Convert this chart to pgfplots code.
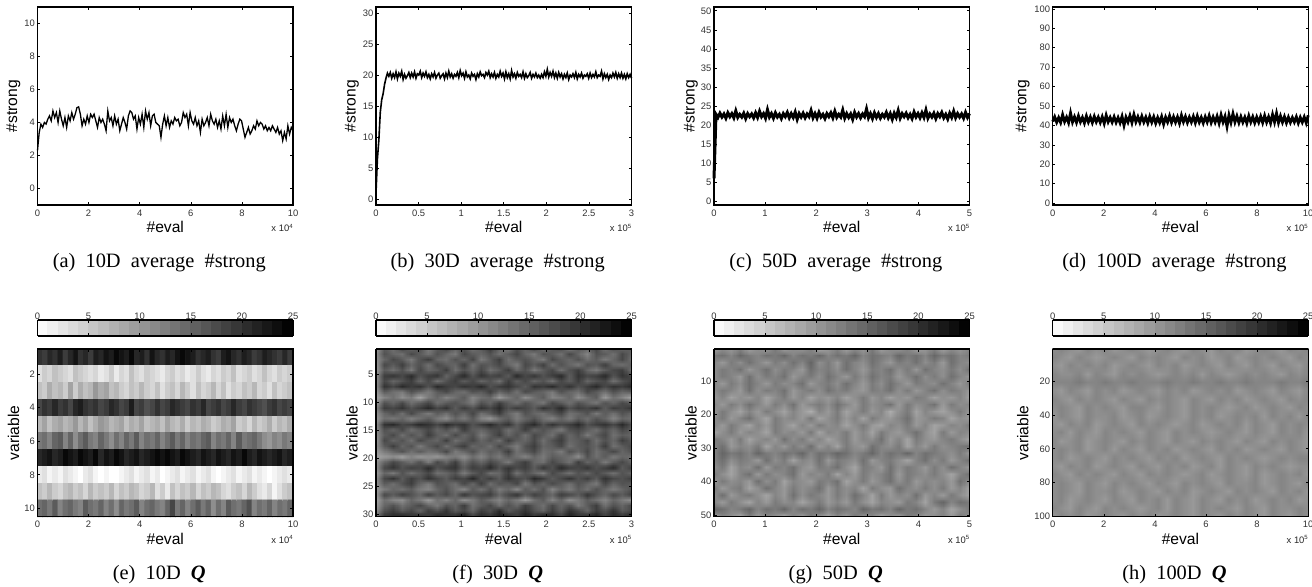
\documentclass[border=0pt]{standalone}
\usepackage{fontspec}
\setmainfont{Liberation Sans}
\newfontfamily\capfont{Liberation Serif}
\usepackage{pgfplots}
\usepgfplotslibrary{patchplots}
\pgfplotsset{compat=1.18}
\newcommand\tickfont{\fontsize{4.7}{5}\selectfont}
\newcommand\labfont{\fontsize{7.8}{9}\selectfont}
\pgfplotsset{
 base/.style={scale only axis,width=127.75pt,anchor=south west,clip=false,
  axis line style={line width=0.55pt,black},
  tick align=inside,major tick length=1.3pt,tick style={line width=0.3pt,black},
  /pgf/number format/assume math mode=true,scaled ticks=false,
  ticklabel style={font=\tickfont,text=black!80,inner sep=0.5pt},
  xticklabel style={yshift=-1.6pt},yticklabel style={xshift=-0.6pt},
  xlabel={\#eval},label style={font=\labfont},
  xlabel style={at={(0.5,0)},anchor=center,yshift=-11pt},
  /pgf/number format/fixed},
 top/.style={base,height=99pt,ylabel={\#strong}},
 heat/.style={base,height=83.85pt,ylabel={variable},y dir=reverse,
  axis on top,view={0}{90},
  colormap={rev}{gray(0cm)=(1);gray(1cm)=(0)},point meta min=0,point meta max=25,
  colorbar horizontal,colorbar sampled,
  colorbar style={samples=26,at={(0,1.0775)},anchor=south west,
    height=8pt,width=127.75pt,xtick={0,5,...,25},xticklabel pos=upper,
    xlabel={},ytick=\empty,tick align=inside,major tick length=1.3pt,
    tick style={line width=0.3pt,black},
    /pgf/number format/assume math mode=true,
    axis line style={line width=0.55pt,black},
    ticklabel style={font=\tickfont,text=black!80,inner sep=0.5pt},
    xticklabel style={yshift=-0.4pt}}},
 yl/.style={ylabel style={at={(0,0.5)},anchor=center,yshift=#1}},
}
\newcommand\expo[1]{\node[anchor=east,font=\tickfont,text=black!85,inner sep=0pt] at (rel axis cs:1,0) [yshift=-11.4pt] {x 10\raisebox{1.6pt}{\fontsize{3}{3}\selectfont #1}};}
\newcommand\capt[1]{\node[anchor=center,font=\capfont\fontsize{10.2}{12}\selectfont] at (rel axis cs:0.5,0) [xshift=-3pt,yshift=-29pt] {#1};}
\begin{document}
\begin{tikzpicture}[x=1pt,y=1pt]
\path[use as bounding box] (0,0) rectangle (656,293.5);
\begin{axis}[top,yl=12pt,at={(18.75pt,191pt)},xmin=0,xmax=10,ymin=-1,ymax=11,xtick={0,2,...,10},ytick={0,2,...,10}]
\addplot[black,line width=0.65pt] table[x expr=\coordindex*10/149,y index=0,header=false]{
2.3
3.4
3.9
3.7
4.0
3.9
4.2
4.4
4.1
4.7
4.3
4.6
4.0
4.7
4.2
3.8
4.3
3.7
4.4
4.1
4.6
4.2
4.5
4.9
4.95
4.5
3.8
4.2
3.9
4.4
4.0
4.5
4.3
4.5
4.1
3.7
4.3
4.0
4.2
3.9
3.5
4.7
4.1
4.3
3.8
4.4
3.9
4.2
3.5
3.9
4.3
4.0
3.6
4.4
4.7
4.6
4.2
4.4
3.6
4.3
3.9
4.5
3.7
4.7
4.2
4.6
3.8
4.4
4.5
4.0
3.9
3.8
3.1
3.9
4.4
3.8
4.3
3.7
4.1
3.9
4.3
4.1
4.2
3.8
4.0
4.6
4.3
4.5
3.8
4.6
4.1
3.9
4.3
3.8
4.1
3.4
4.2
3.8
4.0
4.3
3.8
4.5
4.1
3.9
4.2
3.7
4.1
3.6
4.4
3.8
4.5
3.7
4.3
4.0
4.2
3.8
3.5
3.9
4.2
4.1
3.6
3.1
3.4
3.7
3.3
3.5
3.8
3.6
4.1
3.8
4.0
3.9
3.6
3.8
3.5
3.7
3.5
3.8
3.6
3.4
3.7
3.3
3.5
2.9
3.4
3.0
3.8
3.3
3.7
3.5
};
\expo{4}\capt{(a)\ \ 10D\ \ average\ \ \#strong}
\end{axis}
\begin{axis}[top,yl=12pt,at={(188pt,191pt)},xmin=0,xmax=3,ymin=-1,ymax=31,xtick={0,0.5,...,3},ytick={0,5,...,30}]
\addplot[black,line width=0.8pt] table[x expr=\coordindex*3/179,y index=0,header=false]{
1
6.5
9.5
14
16
17
18.5
19.5
20.3
19.8
20.4
19.5
20.2
19.6
20.5
19.4
20.3
19.8
20.6
19.3
20.1
19.5
19.9
20.4
19.6
20.3
19.7
20.5
19.5
20.2
20.0
20.6
19.6
20.3
19.8
20.5
19.6
20.1
19.4
20.2
19.7
20.4
19.5
20.0
20.3
19.5
19.9
20.2
19.4
20.3
19.6
20.6
19.7
20.2
19.5
20.1
19.8
20.4
19.6
20.7
19.9
20.3
19.5
20.5
19.7
20.0
19.4
20.3
19.8
20.1
19.3
20.2
19.7
20.5
19.9
20.1
19.6
20.4
20.0
20.6
19.6
20.2
19.7
20.4
19.5
20.1
19.7
20.6
19.8
20.3
19.4
20.5
19.6
20.2
19.4
20.7
19.7
20.2
19.5
20.4
19.8
20.1
19.6
20.5
19.5
20.2
19.6
19.9
20.4
19.5
20.1
19.7
20.3
19.6
20.0
19.5
20.1
19.6
20.5
19.8
20.9
19.7
20.4
19.8
20.6
19.6
20.3
19.5
20.4
19.7
20.2
19.4
20.1
19.6
20.3
19.3
20.0
19.7
20.2
19.6
20.4
19.4
20.1
19.7
20.3
19.5
20.0
19.8
20.2
19.5
20.3
19.6
20.1
19.7
20.5
19.6
20.0
19.8
20.6
19.4
20.2
19.6
20.1
19.3
20.0
19.6
20.3
19.7
20.4
19.5
20.2
19.6
20.3
19.5
20.1
19.4
20.2
19.6
20.1
19.5
};
\expo{5}\capt{(b)\ \ 30D\ \ average\ \ \#strong}
\end{axis}
\begin{axis}[top,yl=11.5pt,at={(357pt,191pt)},xmin=0,xmax=5,ymin=-1,ymax=51,xtick={0,1,...,5},ytick={0,5,...,50}]
\addplot[black,line width=1.5pt] table[x expr=\coordindex*5/129,y index=0,header=false]{
6
22.8
22.0
23.1
22.1
22.9
21.8
23.2
22.2
23.0
21.9
23.7
22.0
22.8
22.1
23.1
21.7
23.0
22.2
22.9
21.9
23.2
22.0
23.6
22.2
23.0
21.8
24.0
22.1
23.0
21.8
23.2
22.1
22.8
21.7
23.0
22.2
23.3
21.9
23.0
22.0
23.4
21.5
23.0
22.1
23.1
21.9
22.9
22.2
23.8
21.9
23.0
21.8
23.3
22.1
22.8
21.7
23.0
22.2
23.2
21.9
23.6
22.0
22.8
22.1
23.9
21.8
23.0
22.0
22.9
21.5
23.3
22.1
23.0
21.9
22.9
22.2
24.2
21.9
23.0
21.7
23.2
22.0
23.0
21.8
22.8
22.1
23.3
21.9
23.0
21.5
23.1
22.0
23.8
21.8
23.0
22.2
23.1
21.9
22.8
21.7
23.4
22.1
23.0
21.9
23.2
22.0
23.9
21.8
22.9
22.1
23.1
21.7
23.0
22.2
23.3
21.9
22.8
21.6
23.1
22.0
23.6
21.9
23.0
22.1
22.9
21.8
23.3
22.0
23.0
};
\expo{5}\capt{(c)\ \ 50D\ \ average\ \ \#strong}
\end{axis}
\begin{axis}[top,yl=15pt,at={(526.35pt,191pt)},xmin=0,xmax=10,ymin=-1,ymax=101,xtick={0,2,...,10},ytick={0,10,...,100}]
\addplot[black,line width=1.4pt] table[x expr=\coordindex*10/129,y index=0,header=false]{
42
44.4
41.6
44
41.5
45.5
41.9
44.2
41.4
46.4
41.7
44.4
41.5
44.9
41.8
44.1
41.2
44.8
41.7
44.3
41.4
44.6
41.8
44.2
41.5
44.4
41.0
45.2
41.8
44.1
41.6
44.4
41.5
44.0
41.3
44.6
40.0
44.2
41.7
45.0
41.4
45.6
41.8
44.4
41.5
44.7
41.7
44.2
41.2
44.6
41.6
44.4
41.1
44.0
41.4
44.5
40.6
44.2
41.7
44.9
41.5
44.4
41.6
44.3
41.1
45.2
41.8
44.5
41.4
44.2
41.7
44.6
41.3
44.8
41.6
44.1
41.2
44.4
41.7
45.0
41.4
44.3
41.6
44.7
41.1
45.4
41.7
44.6
39.4
45.3
41.5
46.0
41.7
44.8
41.4
44.5
41.6
44.2
41.1
44.9
41.7
44.4
41.3
44.3
41.6
44.6
41.4
45.0
41.6
44.4
41.2
45.6
41.7
46.2
41.4
44.8
41.6
44.5
41.3
44.2
41.5
44.0
41.7
44.4
41.2
44.1
41.6
44.3
41.3
45.2
};
\expo{5}\capt{(d)\ \ 100D\ \ average\ \ \#strong}
\end{axis}
\begin{axis}[heat,yl=12pt,at={(18.75pt,35.15pt)},xmin=0,xmax=10,ymin=0.5,ymax=10.5,xtick={0,2,...,10},ytick={2,4,...,10}]
\addplot[matrix plot*,mesh/cols=50,point meta=\thisrowno{0}] table[x expr={mod(\coordindex+0.5,50)*0.2},y expr={floor((\coordindex+0.5)/50)+1},header=false]{
20
19
21
20
22
19
21
23
20
21
19
22
21
23
22
24
23
22
24
21
22
20
23
21
20
22
21
23
24
23
22
20
21
22
20
19
22
23
21
20
22
21
19
20
22
21
20
19
21
19
3
5
4
6
5
4
3
6
5
4
3
4
2
3
5
2
4
3
6
4
3
5
4
3
2
4
5
3
4
2
3
5
3
2
4
3
5
4
6
3
4
5
3
4
6
4
3
5
4
5
6
5
8
6
7
5
9
5
8
6
7
10
8
9
6
7
5
4
6
5
7
5
4
6
3
5
6
4
7
5
3
6
4
5
7
4
6
3
5
4
6
5
7
4
5
3
6
4
5
6
18
20
19
21
19
20
18
21
22
20
19
20
18
19
21
20
18
19
22
18
19
17
18
20
18
19
21
20
19
18
20
19
21
18
19
20
18
19
21
19
18
20
19
18
17
19
20
18
19
18
7
9
6
8
9
7
8
10
7
9
6
8
10
9
7
8
9
6
8
7
9
6
7
8
6
9
7
6
8
5
7
6
8
7
5
6
8
7
9
5
6
4
7
5
6
8
5
7
6
8
13
14
12
15
16
12
15
11
14
16
13
12
15
13
11
14
12
15
13
16
12
14
13
15
12
14
16
13
15
12
14
13
15
16
12
14
13
15
12
16
13
14
15
13
11
10
12
11
13
12
21
22
23
21
22
24
23
22
24
23
22
24
21
23
22
24
23
21
22
23
21
22
23
24
23
24
23
22
24
23
22
21
23
22
21
23
22
21
23
22
24
22
21
23
22
21
22
23
21
22
2
3
1
2
1
3
2
1
0
2
3
1
0
1
0
0
1
2
3
1
2
3
1
2
0
1
2
3
1
2
3
1
2
3
1
0
1
2
3
1
2
3
1
2
1
0
1
2
3
2
6
5
7
5
4
6
7
5
6
4
7
5
6
5
7
4
6
5
7
6
4
5
7
3
5
2
6
4
6
5
7
4
6
5
7
6
4
3
5
6
4
7
5
3
2
4
1
3
5
6
14
15
13
16
12
14
15
13
12
16
14
13
15
12
14
11
15
13
14
16
12
14
15
13
12
15
18
13
15
12
14
16
13
15
11
14
12
16
14
13
15
17
12
14
13
15
12
14
13
15
};
\expo{4}\capt{(e)\ \ 10D\ \ \textbf{\textit{Q}}}
\end{axis}
\begin{axis}[heat,yl=12pt,at={(188pt,35.15pt)},xmin=0,xmax=3,ymin=0.5,ymax=30.5,xtick={0,0.5,...,3},ytick={5,10,...,30}]
\addplot3[surf,shader=interp,patch type=bilinear,mesh/cols=30] table[x expr={(mod(\coordindex+0.5,30)-0.5)*3/29},y expr={0.5+floor((\coordindex+0.5)/30)*30/31},z index=0,header=false]{
10
16
14
18
15
17
13
16
18
15
17
14
16
19
15
13
17
15
18
14
16
17
13
16
15
18
14
17
15
16
11
17
15
14
18
16
14
17
15
13
18
16
15
17
14
16
18
15
13
17
16
14
18
15
12
17
16
14
18
15
11
15
18
16
13
17
19
15
14
17
15
18
13
16
19
14
16
17
15
13
18
16
15
17
14
16
13
15
18
14
10
18
16
19
15
17
14
18
16
15
19
14
17
16
18
15
13
18
16
19
14
17
15
13
17
16
19
15
14
16
10
16
14
17
13
18
15
16
19
14
17
15
18
14
16
19
15
17
13
16
18
14
17
19
15
13
16
18
19
14
11
19
20
18
21
17
19
20
15
18
21
17
20
18
19
16
21
18
20
17
19
21
16
20
18
19
21
17
20
18
11
18
15
17
19
15
18
14
17
19
16
18
15
17
14
19
16
18
15
17
14
18
16
19
15
17
18
14
17
19
11
20
18
21
19
20
17
21
19
18
20
19
21
17
19
20
18
16
20
19
21
18
20
17
19
21
18
20
19
21
10
16
14
13
17
15
13
16
18
15
14
17
16
19
15
17
14
18
16
15
13
17
15
14
18
16
14
17
15
16
9
12
14
11
13
9
13
15
12
14
16
12
14
15
10
13
15
11
14
16
12
13
15
11
14
16
10
14
12
9
10
17
15
18
14
16
18
14
16
17
15
13
17
15
19
16
14
17
15
13
18
16
14
17
15
13
17
15
18
16
12
19
18
20
17
19
21
18
20
16
19
17
20
18
21
17
19
18
16
20
18
21
17
19
18
20
16
19
18
20
11
15
17
14
18
15
13
16
14
17
15
18
14
16
19
15
13
17
15
14
16
18
14
15
17
13
16
14
17
15
10
14
13
15
12
14
16
13
11
15
13
16
12
10
14
16
13
15
17
14
12
15
13
16
14
17
15
12
15
14
11
20
21
18
19
21
20
18
21
19
20
17
19
21
18
20
16
19
21
17
20
18
19
21
17
19
20
18
21
17
11
17
15
18
14
16
18
15
17
14
19
16
15
17
18
14
16
19
15
17
15
13
17
18
16
14
17
15
18
16
11
16
18
14
17
15
19
16
14
18
15
17
13
16
19
15
17
14
18
16
14
18
15
17
13
16
18
14
16
15
10
18
15
17
14
18
16
15
19
14
16
18
15
17
14
19
16
15
18
14
17
19
15
16
18
14
17
15
19
16
11
16
19
15
17
13
16
18
14
17
19
15
16
14
18
15
13
17
19
15
16
18
14
16
17
15
19
14
16
18
10
13
15
17
14
16
14
15
18
13
15
17
14
16
15
19
14
16
18
14
15
13
17
15
18
14
16
18
15
17
9
10
11
9
12
10
11
10
12
13
11
14
12
15
13
16
14
12
15
13
16
15
14
11
17
14
16
13
15
14
11
15
18
16
14
17
13
18
15
19
14
17
15
18
16
13
17
19
15
14
18
16
14
19
15
17
13
16
18
15
11
18
20
17
19
18
21
17
19
20
16
19
18
21
17
20
18
19
16
20
17
21
19
18
20
17
19
21
16
19
10
15
13
17
14
16
18
14
15
17
13
16
18
14
15
19
14
17
15
13
18
16
14
17
15
18
16
14
17
15
11
18
20
16
19
17
20
18
16
19
18
21
17
19
16
20
18
17
21
19
16
18
20
17
19
16
20
18
17
19
11
16
14
17
19
15
13
17
16
14
18
15
19
14
17
16
18
13
17
15
18
16
14
17
15
13
18
15
17
16
10
13
15
14
16
13
12
15
17
14
12
16
14
17
13
15
12
16
14
17
12
15
13
16
14
17
15
13
15
17
10
18
16
19
17
15
19
16
18
15
20
17
18
19
15
18
20
16
19
17
15
19
18
16
20
17
15
18
16
19
9
14
12
11
15
13
10
14
12
15
11
13
16
14
12
15
13
10
14
16
12
15
11
13
16
14
12
15
13
11
10
15
17
14
16
18
15
13
17
15
19
14
16
18
14
17
15
19
16
14
18
15
17
13
16
19
14
17
15
18
11
17
19
16
18
15
19
17
20
16
18
15
19
17
21
16
18
20
17
15
19
16
20
18
15
19
17
20
16
18
14
20
21
22
20
21
19
22
20
21
23
19
21
20
22
21
19
22
20
23
21
19
22
20
21
22
19
21
20
22
};
\expo{5}\capt{(f)\ \ 30D\ \ \textbf{\textit{Q}}}
\end{axis}
\begin{axis}[heat,yl=11.5pt,at={(357pt,35.15pt)},xmin=0,xmax=5,ymin=0.5,ymax=50.5,xtick={0,1,...,5},ytick={10,20,...,50}]
\addplot3[surf,shader=interp,patch type=bilinear,mesh/cols=30] table[x expr={(mod(\coordindex+0.5,30)-0.5)*5/29},y expr={0.5+floor((\coordindex+0.5)/30)*50/24},z index=0,header=false]{
9
11
10
12
9
11
10
13
9
11
10
12
8
10
12
9
11
10
13
9
11
10
12
9
10
12
9
11
10
12
13
14
12
15
13
12
14
13
15
12
14
13
15
12
14
13
15
12
14
13
12
15
13
14
12
15
13
14
12
13
12
10
13
11
14
12
10
13
11
14
12
15
11
13
10
14
12
11
14
12
10
13
12
14
11
13
10
14
12
11
11
13
12
14
10
12
14
11
13
12
10
14
12
13
11
14
12
10
13
12
14
11
13
10
14
12
11
13
11
14
11
13
12
10
14
11
13
12
14
10
12
13
11
14
12
10
13
11
14
12
13
10
12
14
11
13
11
14
12
10
12
10
13
11
14
12
10
13
11
12
14
10
12
13
11
14
12
10
13
11
14
12
10
13
12
11
14
12
10
13
11
13
12
10
14
11
13
12
14
10
12
13
11
14
12
13
11
10
13
12
14
11
13
10
12
14
11
13
12
10
10
12
9
11
10
12
9
11
13
10
12
9
11
10
12
9
11
13
10
12
9
11
10
13
12
9
11
10
12
9
12
10
13
11
14
12
10
13
11
14
10
12
13
11
14
12
10
13
11
12
14
10
13
11
12
14
10
13
11
12
10
13
11
9
12
10
13
11
9
12
10
8
12
10
13
9
11
13
10
12
8
11
13
9
12
10
9
11
13
10
11
13
10
12
14
11
9
13
11
12
10
13
9
11
13
10
12
9
13
11
10
12
14
10
11
13
12
9
11
10
12
10
13
11
9
12
10
13
11
9
12
10
13
11
12
9
11
13
10
9
12
11
13
10
12
9
10
12
11
13
9
11
13
10
12
11
9
13
11
12
10
13
9
12
11
13
10
12
9
13
11
10
12
14
11
9
13
10
12
11
13
12
10
13
9
11
12
10
14
11
13
10
12
9
11
13
10
12
11
14
10
12
9
13
11
10
12
13
11
9
12
14
10
12
11
13
9
12
10
13
11
14
10
12
9
13
11
10
14
12
11
13
9
12
10
13
11
12
13
14
12
15
13
14
12
15
13
12
14
13
15
12
14
13
15
14
12
13
15
12
14
13
15
12
14
13
12
11
13
10
12
14
11
13
12
10
14
11
13
9
12
11
14
10
13
12
11
14
10
12
13
11
9
12
14
11
13
10
12
14
11
13
9
12
11
14
10
13
12
14
11
10
13
12
14
11
9
13
12
10
14
11
13
12
10
13
11
14
12
10
13
11
9
12
14
10
13
11
12
14
10
12
11
13
9
12
10
13
11
12
14
10
13
12
11
13
11
9
12
14
10
13
11
12
10
14
11
13
9
12
11
10
13
12
14
9
11
13
10
12
14
11
13
10
12
11
12
10
14
11
13
10
12
13
9
11
14
12
10
13
11
12
14
10
13
11
12
9
13
11
10
14
12
11
13
11
13
10
12
9
11
14
10
12
13
11
9
12
10
14
11
13
12
10
13
11
14
12
9
13
10
12
11
14
10
12
10
13
11
9
12
10
13
11
9
12
10
13
11
12
9
11
13
10
12
10
13
11
9
12
11
10
13
12
9
13
15
12
14
13
15
14
12
13
15
12
14
13
15
12
14
13
15
12
14
13
12
15
13
14
12
15
13
14
12
10
12
9
11
13
10
12
11
9
13
10
12
11
9
12
10
13
11
9
12
10
13
11
12
9
11
10
13
12
10
11
12
10
13
11
};
\expo{5}\capt{(g)\ \ 50D\ \ \textbf{\textit{Q}}}
\end{axis}
\begin{axis}[heat,yl=15pt,at={(526.35pt,35.15pt)},xmin=0,xmax=10,ymin=0.5,ymax=100.5,xtick={0,2,...,10},ytick={20,40,...,100}]
\addplot3[surf,shader=interp,patch type=bilinear,mesh/cols=30] table[x expr={(mod(\coordindex+0.5,30)-0.5)*10/29},y expr={0.5+floor((\coordindex+0.5)/30)*5},z index=0,header=false]{
11
12
11
10
12
11
12
10
11
12
11
10
11
12
11
10
12
11
10
12
11
12
10
11
12
11
10
12
11
12
12
11
10
12
11
10
11
12
11
10
12
11
12
11
10
12
11
12
10
11
12
10
11
12
11
12
11
10
12
11
11
10
12
11
12
11
12
10
11
12
11
10
12
11
12
10
11
12
11
10
12
11
10
12
11
10
12
11
10
12
12
11
11
12
10
12
11
10
12
11
12
11
10
11
12
11
12
10
12
11
10
11
12
11
12
11
10
12
11
12
12
12
12
13
12
12
13
12
12
13
12
12
12
13
12
12
13
12
12
13
12
12
13
12
12
12
13
12
12
13
11
10
12
11
10
12
11
12
10
11
12
11
10
12
11
12
10
11
12
11
12
10
11
12
11
10
12
11
10
12
12
11
10
12
11
12
11
10
12
11
10
12
11
12
11
10
12
11
10
12
11
12
10
11
12
11
10
12
11
12
11
12
11
10
12
11
12
11
10
12
12
11
10
12
11
10
12
11
12
11
10
11
12
10
11
12
11
10
12
11
10
12
11
10
12
11
11
12
10
11
12
10
11
12
11
10
12
11
12
10
11
12
11
12
10
12
11
12
10
12
11
10
12
11
12
10
11
12
11
10
12
11
12
11
10
11
12
10
11
12
11
12
10
12
11
10
12
11
12
11
11
12
10
12
11
10
12
11
12
11
10
12
11
10
12
11
12
11
10
11
12
11
10
12
11
10
12
11
12
10
12
10
11
12
10
11
12
11
10
12
11
12
11
10
12
11
10
12
11
12
11
10
12
11
10
12
11
12
11
10
11
12
11
12
10
11
12
10
12
11
10
12
11
12
10
11
12
11
10
12
11
12
10
11
12
11
10
12
11
10
11
12
10
11
12
11
10
12
11
12
11
10
12
11
12
10
11
12
11
10
12
11
12
11
10
11
12
11
12
12
11
10
12
11
12
10
11
12
11
10
12
11
10
12
11
12
10
11
12
10
12
11
10
12
11
12
11
10
11
11
12
11
10
12
11
12
11
10
12
11
10
12
11
12
11
10
11
12
10
11
12
11
10
12
10
11
12
11
12
10
11
12
11
10
12
11
10
12
11
12
11
10
12
11
10
12
11
12
11
10
12
11
11
12
10
11
12
11
10
12
11
12
11
10
12
11
11
12
10
11
12
11
10
12
11
12
10
11
12
11
10
12
11
12
11
10
12
11
12
10
11
12
10
11
12
11
10
12
11
10
12
11
12
10
12
11
10
12
11
10
12
11
12
10
11
12
11
12
10
11
12
11
10
12
11
10
12
11
12
11
10
11
12
10
12
11
10
12
11
12
11
10
12
11
10
12
11
11
12
11
10
12
11
12
10
11
12
11
10
12
11
12
10
11
12
11
10
12
11
10
12
11
12
11
10
12
11
10
12
11
};
\expo{5}\capt{(h)\ \ 100D\ \ \textbf{\textit{Q}}}
\end{axis}
\end{tikzpicture}
\end{document}
